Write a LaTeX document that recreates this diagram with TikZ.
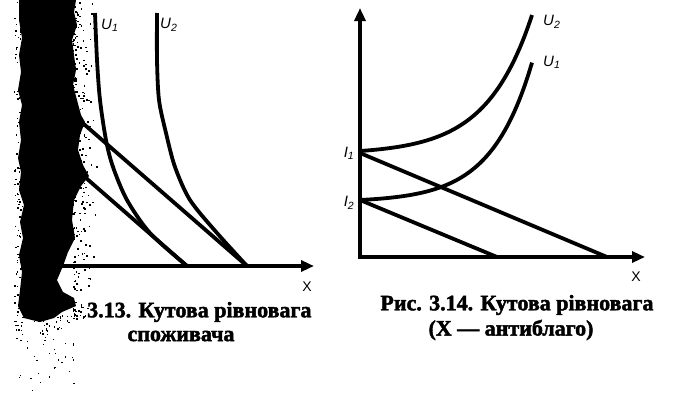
\documentclass[tikz,border=0pt]{standalone}
\usepackage{fontspec}
\setmainfont{Liberation Serif}
\newfontfamily\lsans{Liberation Sans}
\newfontfamily\capfont{Liberation Serif}[FakeBold=2]
\usetikzlibrary{arrows.meta}
\begin{document}
\begin{tikzpicture}[x=1pt,y=-1pt,
  curve/.style={line width=3.8pt},
  axisboth/.style={line width=3.8pt,{Triangle[length=13pt,width=11pt]}-{Triangle[length=13pt,width=11pt]}},
  axisone/.style={line width=3.8pt,-{Triangle[length=13pt,width=11pt]}},
  lbl/.style={font=\lsans\itshape\fontsize{15}{15}\selectfont, inner sep=0pt},
  xl/.style={font=\lsans\fontsize{14}{14}\selectfont, inner sep=0pt},
  captxt/.style={font=\capfont\bfseries\fontsize{22}{22}\selectfont, inner sep=0pt},
  speck/.style={fill=black}]
\useasboundingbox (0,0) rectangle (682,399);

% ---------- right diagram ----------
\coordinate (Ytop) at (360,8);
\coordinate (O2) at (360,257);
\coordinate (Xend) at (645,257);
\draw[axisboth] (Ytop) -- (O2) -- (Xend);
\coordinate (I1) at (360,153);
\coordinate (I2) at (360,200);
\coordinate (B1) at (607,257);
\coordinate (B2) at (497,257);
\draw[curve] (I1) -- (B1);
\draw[curve] (I2) -- (B2);
\draw[curve] plot[domain=360:532, samples=70] (\x, {151-3.16*(exp(0.022*(\x-360))-1)});
\draw[curve] plot[domain=360:532, samples=70] (\x, {200-2.06*(exp(0.0245*(\x-360))-1)});
\node[lbl, anchor=west] (U2r) at (543,22) {U\textsubscript{2}};
\node[lbl, anchor=west] (U1r) at (543,62) {U\textsubscript{1}};
\node[lbl] (I1l) at (349,153) {I\textsubscript{1}};
\node[lbl] (I2l) at (349,203) {I\textsubscript{2}};
\node[xl] (Xr) at (636,277) {X};
\node[captxt] (cap2) at (517,305) {Рис. 3.14. Кутова рівновага};
\node[captxt] (cap2b) at (511,330) {(X — антиблаго)};

% ---------- left diagram ----------
\coordinate (O1) at (50,266);
\coordinate (Xend1) at (314,266);
\draw[axisone] (O1) -- (Xend1);
\coordinate (A1) at (55,99);
\coordinate (A2) at (247,266);
\coordinate (C1) at (55,151);
\coordinate (C2) at (187,266);
\draw[curve] (A1) -- (A2);
\draw[curve] (C1) -- (C2);
\draw[curve] plot[smooth] coordinates {(95,13) (97,60) (100,100) (106,140) (113,167) (127,200) (150,233) (187,266)};
\draw[curve] plot[smooth] coordinates {(157,13) (157,60) (159,100) (166,133) (175,167) (190,200) (217,233) (247,266)};
\node[lbl, anchor=west] (U1l) at (101,25) {U\textsubscript{1}};
\node[lbl, anchor=west] (U2l) at (160,25) {U\textsubscript{2}};
\node[xl] (Xl) at (307,287) {X};
\node[captxt, anchor=west] (cap1) at (87,312) {3.13. Кутова рівновага};
\node[captxt] (cap1b) at (181,336) {споживача};

% ---------- scan smudge ----------
\pgfmathsetseed{42}
\foreach \i in {1,...,300}{
  \pgfmathsetmacro{\yy}{rnd*320}
  \pgfmathsetmacro{\xx}{72+rnd*rnd*26}
  \fill[speck] (\xx,\yy) rectangle ++(1.6,1.6);
}
\foreach \i in {1,...,120}{
  \pgfmathsetmacro{\yy}{rnd*330}
  \pgfmathsetmacro{\xx}{14+rnd*8}
  \fill[speck] (\xx,\yy) rectangle ++(1.4,1.4);
}
\foreach \i in {1,...,70}{
  \pgfmathsetmacro{\yy}{315+rnd*rnd*84}
  \pgfmathsetmacro{\xx}{16+rnd*58}
  \fill[speck] (\xx,\yy) rectangle ++(1.3,1.3);
}
\fill[black]
  (19,0) -- (76,0) -- (74,12) -- (77,25) -- (72,40) -- (74,55) -- (76,70) -- (73,85) -- (77,100) -- (81,115) -- (85,122) -- (80,135) -- (78,150) -- (83,165) -- (89,176) -- (81,186) -- (74,200) -- (72,220) -- (75,238) -- (68,252) -- (63,266) -- (57,280) -- (63,292) -- (74,298) -- (76,306) -- (62,312) -- (54,318) -- (40,322) -- (24,318) -- (18,306) -- (20,290) -- (22,272) -- (19,255) -- (23,238) -- (20,222) -- (24,205) -- (19,190) -- (21,172) -- (18,158) -- (21,140) -- (19,122) -- (22,105) -- (18,90) -- (21,72) -- (19,55) -- (22,38) -- (19,20) -- cycle;
\end{tikzpicture}
\end{document}
